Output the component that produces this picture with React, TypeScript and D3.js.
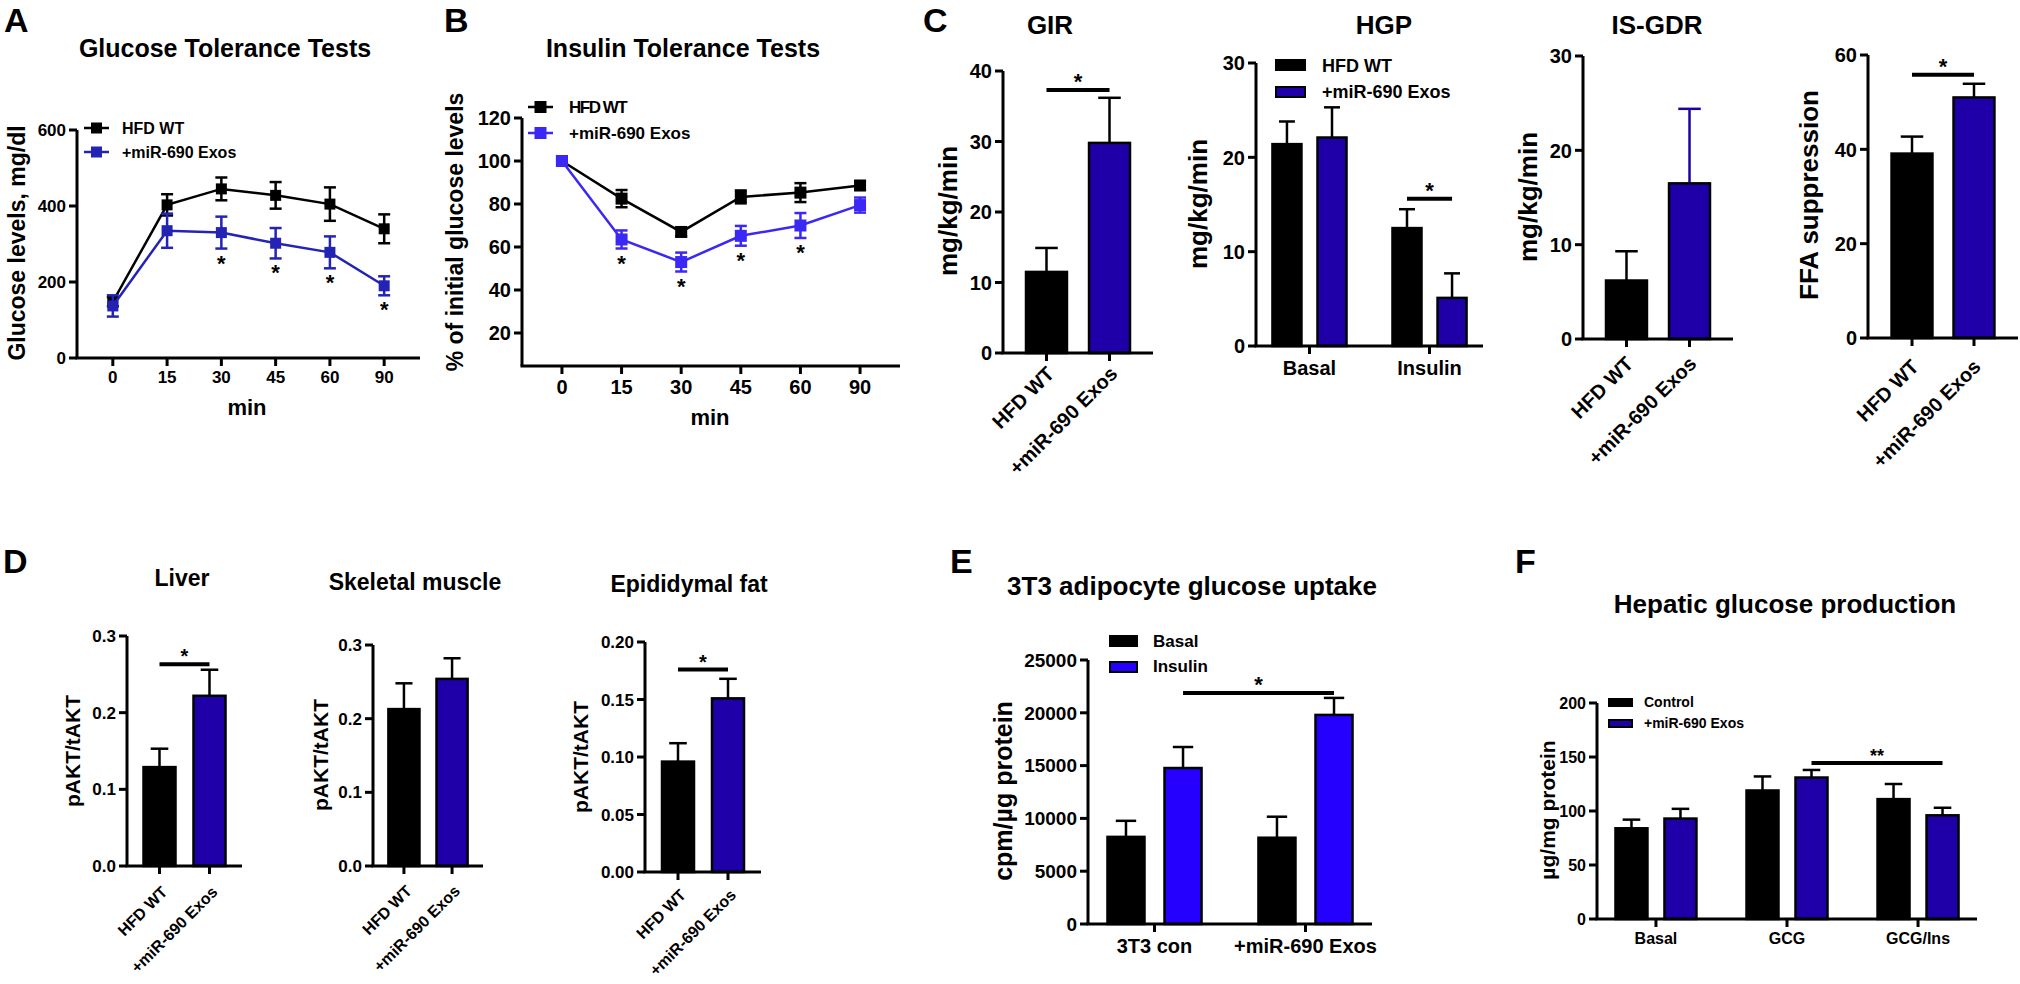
import React from "react";
import * as d3 from "d3";

const FONT = "'Liberation Sans', Arial, Helvetica, sans-serif";
const C_BLACK = "#000000";
const C_DARK = "#1f00a8";
const C_BRIGHT = "#2600ff";
const C_A_BLUE = "#2424b4";
const C_B_BLUE = "#3b28f5";

// ---------- Panel A: Glucose tolerance ----------
const gttTimes = ["0", "15", "30", "45", "60", "90"];
const gttHFD = [148, 403, 445, 428, 405, 340];
const gttHFDErr = [12, 28, 30, 35, 44, 38];
const gttExo = [137, 335, 330, 302, 278, 190];
const gttExoErr = [28, 45, 42, 40, 42, 25];
const gttSig = [false, false, true, true, true, true];
const gttTicks = [0, 200, 400, 600];

// ---------- Panel B: Insulin tolerance ----------
const ittTimes = ["0", "15", "30", "45", "60", "90"];
const ittHFD = [100, 82.5, 67, 83.3, 85.3, 88.6];
const ittHFDErr = [0, 4, 2, 3, 4.4, 2];
const ittExo = [100, 63.5, 53, 65.2, 70, 79.5];
const ittExoErr = [0, 4.2, 4.4, 4.6, 5.8, 3.5];
const ittSig = [false, true, true, true, true, false];
const ittTicks = [20, 40, 60, 80, 100, 120];

// ---------- Panel C ----------
const groupLabels = ["HFD WT", "+miR-690 Exos"];
const girValues = [11.5, 29.8];
const girErr = [3.4, 6.4];
const hgpGroups = ["Basal", "Insulin"];
const hgpHFD = [21.4, 12.5];
const hgpHFDErr = [2.4, 2.0];
const hgpExo = [22.1, 5.1];
const hgpExoErr = [3.2, 2.6];
const isgdrValues = [6.2, 16.5];
const isgdrErr = [3.1, 7.9];
const ffaValues = [39.1, 51.0];
const ffaErr = [3.6, 2.9];

// ---------- Panel D ----------
const liverValues = [0.129, 0.222];
const liverErr = [0.024, 0.034];
const muscleValues = [0.213, 0.254];
const muscleErr = [0.035, 0.028];
const fatValues = [0.096, 0.151];
const fatErr = [0.016, 0.017];

// ---------- Panel E ----------
const uptakeGroups = ["3T3 con", "+miR-690 Exos"];
const uptakeBasal = [8250, 8170];
const uptakeBasalErr = [1520, 1990];
const uptakeInsulin = [14770, 19800];
const uptakeInsulinErr = [1990, 1610];

// ---------- Panel F ----------
const hepGroups = ["Basal", "GCG", "GCG/Ins"];
const hepControl = [84, 119, 111];
const hepControlErr = [8, 13, 14];
const hepExo = [93, 131, 96];
const hepExoErr = [9, 7, 7];

type LineSeries = { label: string; values: number[]; errors: number[]; color: string };

function LinePanel(p: {
  x0: number; x1: number; yBottom: number; yTop: number; domain: [number, number];
  padding: number; cats: string[]; ticks: number[]; series: LineSeries[]; sig: boolean[];
  tickFont: number; marker: number; cap: number;
  xLabel: string; xLabelX: number; xLabelY: number; xLabelFont: number;
  yLabel: string; yLabelX: number; yLabelY: number; yLabelFont: number;
  legendX: number; legendText: number; legendY: number[]; legendFont: number; legendSpacing?: number[];
}) {
  const x = d3.scalePoint<string>().domain(p.cats).range([p.x0, p.x1]).padding(p.padding);
  const y = d3.scaleLinear().domain(p.domain).range([p.yBottom, p.yTop]);
  const yMax = p.ticks[p.ticks.length - 1];
  const tl = 8;
  return (
    <g fontFamily={FONT} fontWeight="bold">
      <line x1={p.x0} x2={p.x0} y1={p.yBottom} y2={y(yMax)} stroke="#000" strokeWidth={3} />
      <line x1={p.x0 - 1.5} x2={p.x1} y1={p.yBottom} y2={p.yBottom} stroke="#000" strokeWidth={3} />
      {p.ticks.map((t) => (
        <g key={t}>
          <line x1={p.x0 - tl} x2={p.x0} y1={y(t)} y2={y(t)} stroke="#000" strokeWidth={3} />
          <text x={p.x0 - tl - 3} y={y(t)} dy="0.36em" textAnchor="end" fontSize={p.tickFont}>{t}</text>
        </g>
      ))}
      {p.cats.map((c) => (
        <g key={c}>
          <line x1={x(c)} x2={x(c)} y1={p.yBottom} y2={p.yBottom + tl} stroke="#000" strokeWidth={3} />
          <text x={x(c)} y={p.yBottom + tl + p.tickFont} textAnchor="middle" fontSize={p.tickFont}>{c}</text>
        </g>
      ))}
      <text x={p.xLabelX} y={p.xLabelY} textAnchor="middle" fontSize={p.xLabelFont}>{p.xLabel}</text>
      <text transform={`translate(${p.yLabelX},${p.yLabelY}) rotate(-90)`} dy="0.35em" textAnchor="middle" fontSize={p.yLabelFont}>{p.yLabel}</text>
      {p.series.map((s) => {
        const line = d3.line<number>().x((_, i) => x(p.cats[i])!).y((d) => y(d));
        return (
          <g key={s.label}>
            <path d={line(s.values) || ""} fill="none" stroke={s.color} strokeWidth={2.5} />
            {s.values.map((v, i) => {
              const cx = x(p.cats[i])!;
              const e = s.errors[i];
              return (
                <g key={i}>
                  {e > 0 && (
                    <g stroke={s.color} strokeWidth={2.5}>
                      <line x1={cx} x2={cx} y1={y(v - e)} y2={y(v + e)} />
                      <line x1={cx - p.cap / 2} x2={cx + p.cap / 2} y1={y(v + e)} y2={y(v + e)} />
                      <line x1={cx - p.cap / 2} x2={cx + p.cap / 2} y1={y(v - e)} y2={y(v - e)} />
                    </g>
                  )}
                  <rect x={cx - p.marker / 2} y={y(v) - p.marker / 2} width={p.marker} height={p.marker} fill={s.color} />
                </g>
              );
            })}
          </g>
        );
      })}
      {p.sig.map((sg, i) => {
        if (!sg) return null;
        const s = p.series[1];
        const cx = x(p.cats[i])!;
        return (
          <text key={i} x={cx} y={y(s.values[i] - s.errors[i]) + 22} textAnchor="middle" fontSize={22}>*</text>
        );
      })}
      {p.series.map((s, si) => (
        <g key={"lg" + si}>
          <line x1={p.legendX} x2={p.legendX + 25} y1={p.legendY[si]} y2={p.legendY[si]} stroke={s.color} strokeWidth={2.5} />
          <rect x={p.legendX + 12.5 - p.marker / 2} y={p.legendY[si] - p.marker / 2} width={p.marker} height={p.marker} fill={s.color} />
          <text x={p.legendText} y={p.legendY[si]} dy="0.36em" fontSize={p.legendFont} letterSpacing={p.legendSpacing ? p.legendSpacing[si] : 0}>{s.label}</text>
        </g>
      ))}
    </g>
  );
}

type BarSeries = { label: string; values: number[]; errors: number[]; fill: string[]; errStroke?: string[] };
type Sig = { a: [number, number]; b: [number, number]; level: number; text: string; font: number };
type Legend = { x: number; w: number; h: number; tops: number[]; textX: number; baselines: number[]; font: number };

function BarPanel(p: {
  x0: number; x1: number; yBottom: number; yTop: number; max: number; ticks: number[]; fmt: string;
  cats: string[]; series: BarSeries[]; pi: number; po: number; pi2?: number;
  tickFont: number; catFont: number; rotate?: boolean; rotDx?: number; rotDy?: number;
  yLabel: string; yLabelX: number; yLabelY: number; yLabelFont: number;
  sig?: Sig; legend?: Legend;
}) {
  const xg = d3.scaleBand<string>().domain(p.cats).range([p.x0, p.x1]).paddingInner(p.pi).paddingOuter(p.po);
  const xs = d3.scaleBand<string>().domain(p.series.map((s) => s.label)).range([0, xg.bandwidth()]).paddingInner(p.pi2 ?? 0);
  const y = d3.scaleLinear().domain([0, p.max]).range([p.yBottom, p.yTop]);
  const bw = xs.bandwidth();
  const fmt = d3.format(p.fmt);
  const tl = 8;
  const center = (ci: number, si: number) => xg(p.cats[ci])! + xs(p.series[si].label)! + bw / 2;
  const capW = bw * 0.55;
  return (
    <g fontFamily={FONT} fontWeight="bold">
      {p.series.map((s, si) =>
        s.values.map((v, ci) => {
          const cx = center(ci, si);
          const e = s.errors[ci];
          const es = s.errStroke ? s.errStroke[ci] : "#000";
          return (
            <g key={`${si}-${ci}`}>
              <line x1={cx} x2={cx} y1={y(v)} y2={y(v + e)} stroke={es} strokeWidth={2.5} />
              <line x1={cx - capW / 2} x2={cx + capW / 2} y1={y(v + e)} y2={y(v + e)} stroke={es} strokeWidth={2.5} />
              <rect x={cx - bw / 2} y={y(v)} width={bw} height={p.yBottom - y(v)} fill={s.fill[ci]} stroke="#000" strokeWidth={2.5} />
            </g>
          );
        })
      )}
      <line x1={p.x0} x2={p.x0} y1={p.yBottom} y2={y(p.max)} stroke="#000" strokeWidth={3} />
      <line x1={p.x0 - 1.5} x2={p.x1} y1={p.yBottom} y2={p.yBottom} stroke="#000" strokeWidth={3} />
      {p.ticks.map((t) => (
        <g key={t}>
          <line x1={p.x0 - tl} x2={p.x0} y1={y(t)} y2={y(t)} stroke="#000" strokeWidth={3} />
          <text x={p.x0 - tl - 3} y={y(t)} dy="0.36em" textAnchor="end" fontSize={p.tickFont}>{fmt(t)}</text>
        </g>
      ))}
      {p.cats.map((c) => {
        const cx = xg(c)! + xg.bandwidth() / 2;
        return (
          <g key={c}>
            <line x1={cx} x2={cx} y1={p.yBottom} y2={p.yBottom + tl} stroke="#000" strokeWidth={3} />
            {p.rotate ? (
              <text transform={`translate(${cx + (p.rotDx ?? 8)},${p.yBottom + (p.rotDy ?? 26)}) rotate(-45)`} textAnchor="end" fontSize={p.catFont}>{c}</text>
            ) : (
              <text x={cx} y={p.yBottom + tl + p.catFont + 1} textAnchor="middle" fontSize={p.catFont}>{c}</text>
            )}
          </g>
        );
      })}
      <text transform={`translate(${p.yLabelX},${p.yLabelY}) rotate(-90)`} dy="0.35em" textAnchor="middle" fontSize={p.yLabelFont}>{p.yLabel}</text>
      {p.sig && (
        <g>
          <line x1={center(p.sig.a[0], p.sig.a[1])} x2={center(p.sig.b[0], p.sig.b[1])} y1={y(p.sig.level)} y2={y(p.sig.level)} stroke="#000" strokeWidth={4} />
          <text x={(center(p.sig.a[0], p.sig.a[1]) + center(p.sig.b[0], p.sig.b[1])) / 2} y={y(p.sig.level) - 1} textAnchor="middle" fontSize={p.sig.font}>{p.sig.text}</text>
        </g>
      )}
      {p.legend &&
        p.series.map((s, si) => (
          <g key={"lg" + si}>
            <rect x={p.legend!.x} y={p.legend!.tops[si]} width={p.legend!.w} height={p.legend!.h} fill={s.fill[0]} stroke="#000" strokeWidth={2} />
            <text x={p.legend!.textX} y={p.legend!.baselines[si]} fontSize={p.legend!.font}>{s.label}</text>
          </g>
        ))}
    </g>
  );
}

function Txt(p: { x: number; y: number; t: string; size: number; anchor?: string }) {
  return (
    <text x={p.x} y={p.y} fontFamily={FONT} fontWeight="bold" fontSize={p.size} textAnchor={p.anchor ?? "middle"}>{p.t}</text>
  );
}

export default function App() {
  const two = [C_BLACK, C_DARK];
  return (
    <svg width={2020} height={984} style={{ position: "absolute", left: 0, top: 0, background: "#fff" }}>
      <rect width={2020} height={984} fill="#fff" />
      <Txt x={4} y={32} t="A" size={34} anchor="start" />
      <Txt x={444} y={32} t="B" size={34} anchor="start" />
      <Txt x={923} y={32} t="C" size={34} anchor="start" />
      <Txt x={3} y={573} t="D" size={34} anchor="start" />
      <Txt x={950} y={573} t="E" size={34} anchor="start" />
      <Txt x={1515} y={573} t="F" size={34} anchor="start" />

      <Txt x={225} y={57} t="Glucose Tolerance Tests" size={25} />
      <Txt x={683} y={57} t="Insulin Tolerance Tests" size={25} />
      <Txt x={1050} y={34} t="GIR" size={26} />
      <Txt x={1384} y={34} t="HGP" size={26} />
      <Txt x={1657} y={34} t="IS-GDR" size={26} />
      <Txt x={182} y={586} t="Liver" size={23} />
      <Txt x={415} y={590} t="Skeletal muscle" size={23} />
      <Txt x={689} y={592} t="Epididymal fat" size={23} />
      <Txt x={1192} y={595} t="3T3 adipocyte glucose uptake" size={26} />
      <Txt x={1785} y={613} t="Hepatic glucose production" size={26} />

      <LinePanel
        x0={77} x1={420} yBottom={358} yTop={130} domain={[0, 600]} padding={0.66}
        cats={gttTimes} ticks={gttTicks}
        series={[
          { label: "HFD WT", values: gttHFD, errors: gttHFDErr, color: C_BLACK },
          { label: "+miR-690 Exos", values: gttExo, errors: gttExoErr, color: C_A_BLUE },
        ]}
        sig={gttSig} tickFont={17} marker={11} cap={12}
        xLabel="min" xLabelX={247} xLabelY={415} xLabelFont={22}
        yLabel="Glucose levels, mg/dl" yLabelX={17} yLabelY={243} yLabelFont={23}
        legendX={84} legendText={122} legendY={[128, 152]} legendFont={16}
      />
      <LinePanel
        x0={522} x1={900} yBottom={366} yTop={118} domain={[4.65, 120]} padding={0.67}
        cats={ittTimes} ticks={ittTicks}
        series={[
          { label: "HFD WT", values: ittHFD, errors: ittHFDErr, color: C_BLACK },
          { label: "+miR-690 Exos", values: ittExo, errors: ittExoErr, color: C_B_BLUE },
        ]}
        sig={ittSig} tickFont={20} marker={12} cap={12}
        xLabel="min" xLabelX={710} xLabelY={425} xLabelFont={22}
        yLabel="% of initial glucose levels" yLabelX={455} yLabelY={232} yLabelFont={23}
        legendX={528} legendText={569} legendY={[107, 133]} legendFont={17} legendSpacing={[-1.5, 0]}
      />

      <BarPanel
        x0={1003} x1={1153} yBottom={353} yTop={71} max={40} ticks={[0, 10, 20, 30, 40]} fmt="d"
        cats={groupLabels} series={[{ label: "v", values: girValues, errors: girErr, fill: two }]}
        pi={0.35} po={0.365} tickFont={20} catFont={20} rotate rotDx={9} rotDy={22}
        yLabel="mg/kg/min" yLabelX={948} yLabelY={211} yLabelFont={26}
        sig={{ a: [0, 0], b: [1, 0], level: 37.3, text: "*", font: 22 }}
      />
      <BarPanel
        x0={1256} x1={1483} yBottom={346} yTop={63} max={30} ticks={[0, 10, 20, 30]} fmt="d"
        cats={hgpGroups}
        series={[
          { label: "HFD WT", values: hgpHFD, errors: hgpHFDErr, fill: [C_BLACK, C_BLACK] },
          { label: "+miR-690 Exos", values: hgpExo, errors: hgpExoErr, fill: [C_DARK, C_DARK] },
        ]}
        pi={0.383} po={0.137} pi2={0.356} tickFont={20} catFont={20}
        yLabel="mg/kg/min" yLabelX={1198} yLabelY={204} yLabelFont={26}
        sig={{ a: [1, 0], b: [1, 1], level: 15.6, text: "*", font: 22 }}
        legend={{ x: 1276, w: 29, h: 10, tops: [60, 87], textX: 1322, baselines: [72, 98], font: 18 }}
      />
      <BarPanel
        x0={1583} x1={1733} yBottom={339} yTop={56} max={30} ticks={[0, 10, 20, 30]} fmt="d"
        cats={groupLabels} series={[{ label: "v", values: isgdrValues, errors: isgdrErr, fill: two, errStroke: two }]}
        pi={0.35} po={0.365} tickFont={20} catFont={20} rotate rotDx={8} rotDy={26}
        yLabel="mg/kg/min" yLabelX={1528} yLabelY={197} yLabelFont={26}
      />
      <BarPanel
        x0={1868} x1={2018} yBottom={338} yTop={55} max={60} ticks={[0, 20, 40, 60]} fmt="d"
        cats={groupLabels} series={[{ label: "v", values: ffaValues, errors: ffaErr, fill: two }]}
        pi={0.34} po={0.38} tickFont={20} catFont={20} rotate rotDx={8} rotDy={30}
        yLabel="FFA suppression" yLabelX={1809} yLabelY={195} yLabelFont={26}
        sig={{ a: [0, 0], b: [1, 0], level: 55.8, text: "*", font: 22 }}
      />

      <BarPanel
        x0={127} x1={242} yBottom={866} yTop={636} max={0.3} ticks={[0, 0.1, 0.2, 0.3]} fmt=".1f"
        cats={groupLabels} series={[{ label: "v", values: liverValues, errors: liverErr, fill: two }]}
        pi={0.36} po={0.33} tickFont={17} catFont={16} rotate rotDx={9} rotDy={27}
        yLabel="pAKT/tAKT" yLabelX={73} yLabelY={751} yLabelFont={21}
        sig={{ a: [0, 0], b: [1, 0], level: 0.263, text: "*", font: 20 }}
      />
      <BarPanel
        x0={373} x1={483} yBottom={866} yTop={645} max={0.3} ticks={[0, 0.1, 0.2, 0.3]} fmt=".1f"
        cats={groupLabels} series={[{ label: "v", values: muscleValues, errors: muscleErr, fill: two }]}
        pi={0.354} po={0.32} tickFont={17} catFont={16} rotate rotDx={9} rotDy={26}
        yLabel="pAKT/tAKT" yLabelX={321} yLabelY={755} yLabelFont={21}
      />
      <BarPanel
        x0={645} x1={761} yBottom={872} yTop={642} max={0.2} ticks={[0, 0.05, 0.1, 0.15, 0.2]} fmt=".2f"
        cats={groupLabels} series={[{ label: "v", values: fatValues, errors: fatErr, fill: two }]}
        pi={0.36} po={0.34} tickFont={17} catFont={16} rotate rotDx={9} rotDy={24}
        yLabel="pAKT/tAKT" yLabelX={581} yLabelY={757} yLabelFont={21}
        sig={{ a: [0, 0], b: [1, 0], level: 0.176, text: "*", font: 20 }}
      />

      <BarPanel
        x0={1088} x1={1372} yBottom={924} yTop={660} max={25000} ticks={[0, 5000, 10000, 15000, 20000, 25000]} fmt="d"
        cats={uptakeGroups}
        series={[
          { label: "Basal", values: uptakeBasal, errors: uptakeBasalErr, fill: [C_BLACK, C_BLACK] },
          { label: "Insulin", values: uptakeInsulin, errors: uptakeInsulinErr, fill: [C_BRIGHT, C_BRIGHT] },
        ]}
        pi={0.377} po={0.129} pi2={0.351} tickFont={19} catFont={20}
        yLabel="cpm/µg protein" yLabelX={1003} yLabelY={791} yLabelFont={25}
        sig={{ a: [0, 1], b: [1, 1], level: 21870, text: "*", font: 22 }}
        legend={{ x: 1110, w: 27, h: 10, tops: [636, 662], textX: 1153, baselines: [647, 672], font: 17 }}
      />

      <BarPanel
        x0={1597} x1={1977} yBottom={919} yTop={703} max={200} ticks={[0, 50, 100, 150, 200]} fmt="d"
        cats={hepGroups}
        series={[
          { label: "Control", values: hepControl, errors: hepControlErr, fill: [C_BLACK, C_BLACK, C_BLACK] },
          { label: "+miR-690 Exos", values: hepExo, errors: hepExoErr, fill: [C_DARK, C_DARK, C_DARK] },
        ]}
        pi={0.382} po={0.141} pi2={0.347} tickFont={16} catFont={16}
        yLabel="µg/mg protein" yLabelX={1548} yLabelY={810} yLabelFont={21}
        sig={{ a: [1, 1], b: [2, 1], level: 144.4, text: "**", font: 18 }}
        legend={{ x: 1609, w: 23, h: 7, tops: [699, 720], textX: 1644, baselines: [707, 728], font: 14 }}
      />
    </svg>
  );
}
